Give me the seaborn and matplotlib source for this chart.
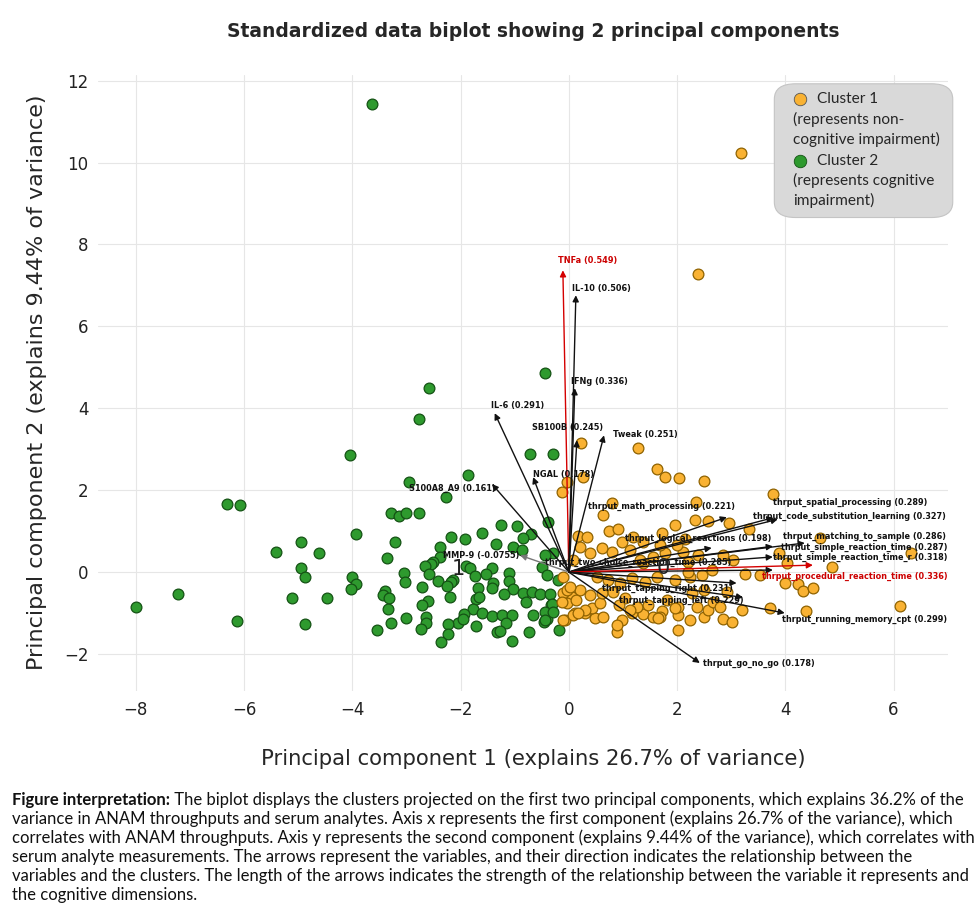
import matplotlib
matplotlib.use("Agg")
import matplotlib.pyplot as plt
import seaborn as sns
import pandas as pd
from matplotlib.patches import FancyBboxPatch

# ---------------- data ----------------
green_x = [-4.05, -6.32, -6.08, -3.94, -4.94, -5.42, -4.62, -4.95, -4.88, -4.01, -3.94, -4.03, -5.12, -4.47,
           -7.23, -7.99, -6.14, -4.88, -3.64,
           -0.44, -2.59, -2.77, -0.72, -0.30, -1.87, -2.96, -2.27,
           -3.29, -3.14, -3.01, -2.77, -0.39, -1.26, -0.96, -1.61, -0.70, -0.85, -2.18, -1.92, -3.22, -1.35,
           -1.04, -2.38, -0.87, -3.36, -2.38, -0.30, -2.51, -2.55, -2.66, -0.50, -1.90, -1.83, -1.42, -3.05,
           -2.59, -1.53, -1.11, -0.41, -1.74, -1.11, -2.14, -2.42, -2.18, -3.03, -1.40, -0.20, -2.72, -2.26,
           -1.68, -1.42, -1.04, -3.40, -0.85, -0.68, -1.20, -0.54, -0.35, -2.20, -3.44, -3.33, -1.72, -1.66,
           -0.79, -0.33, -2.61, -2.72, -1.77, -3.35, -1.61, -1.94, -1.42, -1.24, -1.05, -0.67, -3.00, -2.64,
           -2.05, -1.96, -2.64, -2.24, -0.46, -0.41, -1.16, -3.29, -3.55, -2.74, -1.72, -1.33, -1.28, -0.74,
           -0.18, -2.24, -1.05, -2.37, -0.44, -0.31, -0.44, -0.30, -0.44]
green_y = [2.85, 1.66, 1.63, 0.93, 0.73, 0.49, 0.46, 0.10, -0.12, -0.12, -0.29, -0.41, -0.63, -0.63,
           -0.54, -0.85, -1.20, -1.27, 11.44,
           4.85, 4.49, 3.73, 2.88, 2.88, 2.37, 2.20, 1.83,
           1.44, 1.37, 1.44, 1.44, 1.22, 1.15, 1.12, 0.95, 0.93, 0.83, 0.85, 0.80, 0.73, 0.68,
           0.61, 0.61, 0.54, 0.34, 0.37, 0.46, 0.24, 0.20, 0.15, 0.12, 0.15, 0.10, 0.10, -0.02,
           -0.05, -0.05, -0.02, -0.07, -0.10, -0.22, -0.20, -0.22, -0.24, -0.24, -0.27, -0.20, -0.37, -0.34,
           -0.39, -0.39, -0.41, -0.46, -0.51, -0.49, -0.54, -0.54, -0.54, -0.61, -0.56, -0.63, -0.66, -0.61,
           -0.73, -0.80, -0.71, -0.80, -0.90, -0.90, -1.00, -1.02, -1.07, -1.05, -1.05, -1.05, -1.12, -1.10,
           -1.24, -1.15, -1.24, -1.27, -1.22, -1.15, -1.24, -1.24, -1.41, -1.39, -1.32, -1.46, -1.44, -1.46,
           -1.41, -1.51, -1.68, -1.71, 0.41, -0.78, -0.98, -0.98, -1.17]

orange_x = [3.18, 2.38, 0.22, 1.28, 1.63, 1.77, 2.03, 2.50, 0.26, -0.04, -0.13, 3.77, 0.79, 2.35, 0.63,
            1.96, 2.33, 2.57, 2.96, 3.33, 0.74, 0.91, 0.17, 0.33, 4.64, 6.32, 4.86, 3.88, 4.03, 3.25,
            3.53, 3.99, 4.23, 4.33, 4.51, 3.72, 4.38, 6.12, 3.20, 2.85, 3.01, 2.01, 2.50, 2.24, 0.89,
            0.98, 0.48, 0.63, -0.07, 0.11, 0.30, 1.16, 1.37, 1.55, 1.72, 2.01, 2.01, 1.81, 2.27, 2.57,
            2.66, 2.50, 0.06, 0.20, 0.43, -0.04, 0.13, 0.57, 0.39, 0.61, 0.81, 1.04, 1.26, 1.46, -0.11,
            -0.04, 0.92, 1.13, 1.68, 1.96, 2.37, 2.79, 2.92, 2.24, 2.46, 2.11, 2.20, 2.38, 2.64, 3.03,
            2.85, 1.77, 1.55, 1.37, 1.13, 0.98, 0.79, 0.61, 0.39, 0.20, 0.07, 0.52, 0.72, 0.94, 1.16,
            1.40, 1.63, 1.96, 2.20, 1.31, 1.68, 2.00, 2.14, 1.37, 1.18, 1.72, -0.13, -0.11, 0.02, 1.65,
            0.89, 0.07, -0.11, 0.30, 0.17]
orange_y = [10.24, 7.27, 3.15, 3.02, 2.51, 2.32, 2.29, 2.22, 2.32, 2.20, 1.95, 1.90, 1.68, 1.71, 1.39,
            1.15, 1.27, 1.24, 1.20, 1.05, 1.00, 1.05, 0.88, 0.85, 0.83, 0.46, 0.12, 0.46, 0.22, -0.05,
            -0.07, -0.27, -0.29, -0.46, -0.39, -0.88, -0.95, -0.83, -0.93, -1.15, -1.22, -1.41, -1.10, -1.17, -1.46,
            -1.17, -1.12, -1.10, -1.17, -1.00, -1.00, -1.00, -1.02, -1.10, -0.95, -1.05, -0.85, -0.68, -0.51, -0.93,
            -0.73, -0.44, -0.61, -0.44, -0.88, -0.76, -0.68, -0.76, -0.56, -0.51, -0.49, -0.63, -0.85, -0.80, -0.51,
            -0.44, -0.80, -0.93, -1.10, -0.88, -0.85, -0.85, -0.49, -0.12, -0.07, 0.49, 0.24, 0.41, 0.05, 0.29,
            0.41, 0.46, 0.37, 0.22, 0.54, 0.73, 0.49, 0.59, 0.46, 0.61, 0.29, -0.12, -0.20, -0.27, -0.15,
            -0.24, -0.12, -0.20, 0.00, 0.29, 0.66, 0.66, 0.80, 0.73, 0.85, 0.95, -0.73, -0.12, -0.37, -1.12,
            -1.29, -1.05, -1.17, -0.93, -1.00]

# loading arrows: names, tips, label anchors, colors
var_names = ["TNFa (0.549)", "IL-10 (0.506)", "IFNg (0.336)", "IL-6 (0.291)", "SB100B (0.245)",
             "Tweak (0.251)", "NGAL (0.178)", "S100A8_A9 (0.161)", "MMP-9 (-0.0755)",
             "thrput_two-choice_reaction_time (0.285)", "thrput_math_processing (0.221)",
             "thrput_spatial_processing (0.289)", "thrput_code_substitution_learning (0.327)",
             "thrput_logical_reactions (0.198)", "thrput_matching_to_sample (0.286)",
             "thrput_simple_reaction_time (0.287)", "thrput_simple_reaction_time_r (0.318)",
             "thrput_procedural_reaction_time (0.336)", "thrput_tapping_right (0.231)",
             "thrput_tapping_left (0.229)", "thrput_running_memory_cpt (0.299)", "thrput_go_no_go (0.178)"]
tip_x = [-0.11, 0.13, 0.11, -1.37, 0.15, 0.65, -0.66, -1.42, -0.90, 3.77, 2.92, 3.78, 3.86, 2.64,
         4.36, 3.77, 3.77, 4.51, 3.10, 3.22, 3.99, 2.42]
tip_y = [7.37, 6.76, 4.49, 3.88, 3.22, 3.34, 2.32, 2.15, 0.41, 0.05, 1.34, 1.33, 1.29, 0.59,
         0.71, 0.63, 0.37, 0.17, -0.27, -0.62, -1.00, -2.22]
lab_x = [-0.20, 0.06, 0.04, -1.44, -0.68, 0.81, -0.67, -2.96, -2.33, -0.44, 0.35, 3.77, 3.40, 1.04,
         3.96, 3.92, 3.77, 3.57, 0.61, 0.92, 3.94, 2.48]
lab_y = [7.61, 6.93, 4.66, 4.07, 3.54, 3.37, 2.39, 2.05, 0.41, 0.24, 1.61, 1.71, 1.37, 0.83,
         0.88, 0.59, 0.35, -0.10, -0.41, -0.68, -1.15, -2.22]
var_color = ["red", "black", "black", "black", "black", "black", "black", "black", "gray",
             "black", "black", "black", "black", "black", "black", "black", "black", "red",
             "black", "black", "black", "black"]

centroid_labels = ["0", "1"]
centroid_x = [1.74, -2.05]
centroid_y = [0.10, 0.08]

legend_lines = [("Cluster 1", "orange"), ("(represents non-", None), ("cognitive impairment)", None),
                ("Cluster 2", "green"), ("(represents cognitive", None), ("impairment)", None)]

title = "Standardized data biplot showing 2 principal components"
xlabel = "Principal component 1 (explains 26.7% of variance)"
ylabel = "Principal component 2 (explains 9.44% of variance)"
caption_bold = "Figure interpretation:"
caption_lines = [
    " The biplot displays the clusters projected on the first two principal components, which explains 36.2% of the",
    "variance in ANAM throughputs and serum analytes. Axis x represents the first component (explains 26.7% of the variance), which",
    "correlates with ANAM throughputs. Axis y represents the second component (explains 9.44% of the variance), which correlates with",
    "serum analyte measurements. The arrows represent the variables, and their direction indicates the relationship between the",
    "variables and the clusters. The length of the arrows indicates the strength of the relationship between the variable it represents and",
    "the cognitive dimensions.",
]

# ---------------- plot ----------------
sns.set_style("whitegrid", {"grid.color": "#e6e6e6"})
plt.rcParams['font.family'] = ['DejaVu Sans']

ORANGE = "#f9b233"
GREEN = "#2e9a2e"
colors = {"orange": ORANGE, "green": GREEN}

fig = plt.figure(figsize=(9.8, 9.09), dpi=100)
ax = fig.add_axes([0.100, 0.240, 0.867, 0.678])

df = pd.DataFrame({
    "pc1": green_x + orange_x,
    "pc2": green_y + orange_y,
    "cluster": ["Cluster 2"] * len(green_x) + ["Cluster 1"] * len(orange_x),
})
sns.scatterplot(data=df[df.cluster == "Cluster 2"], x="pc1", y="pc2", color=GREEN,
                edgecolor="#145214", linewidth=0.9, s=60, ax=ax, zorder=2, legend=False)
sns.scatterplot(data=df[df.cluster == "Cluster 1"], x="pc1", y="pc2", color=ORANGE,
                edgecolor="#8f6200", linewidth=0.9, s=60, ax=ax, zorder=2, legend=False)

for name, tx, ty, lx, ly, c in zip(var_names, tip_x, tip_y, lab_x, lab_y, var_color):
    col = {"red": "#d40000", "black": "#111111", "gray": "#777777"}[c]
    ax.annotate("", xy=(tx, ty), xytext=(0, 0),
                arrowprops=dict(arrowstyle="-|>", color=col, lw=1.0, mutation_scale=9,
                                shrinkA=0, shrinkB=0), zorder=3)
    ax.text(lx, ly, name, fontsize=5.9, fontweight="bold",
            color="#cc0000" if c == "red" else "#111111",
            ha="left", va="center", zorder=4)

for lab, cx, cy in zip(centroid_labels, centroid_x, centroid_y):
    ax.text(cx, cy, lab, fontsize=15, color="#222222", ha="center", va="center", zorder=4)

ax.set_xlim(-8.7, 7.0)
ax.set_ylim(-2.9, 12.15)
ax.set_xticks([-8, -6, -4, -2, 0, 2, 4, 6])
ax.set_yticks([-2, 0, 2, 4, 6, 8, 10, 12])
ax.tick_params(labelsize=12, colors="#222222")
ax.set_xlabel(xlabel, fontsize=15.2)
ax.xaxis.set_label_coords(0.512, -0.095)
ax.set_ylabel(ylabel, fontsize=16, labelpad=12)
sns.despine(ax=ax, left=True, bottom=True, right=True, top=True)
fig.text(0.544, 0.965, title, fontsize=13.5, fontweight="bold", ha="center", va="center")

# legend box (custom)
box = FancyBboxPatch((0.796, 0.768), 0.21, 0.217, boxstyle="round,pad=0,rounding_size=0.025",
                     transform=ax.transAxes, facecolor="#d9d9d9", edgecolor="#c4c4c4",
                     lw=0.8, zorder=5, clip_on=False)
ax.add_patch(box)
ys = [0.961, 0.927, 0.894, 0.860, 0.828, 0.795]
for (txt, mk), yy in zip(legend_lines, ys):
    if mk:
        ax.plot([0.826], [yy], marker="o", markersize=9, color=colors[mk],
                markeredgecolor="#555555" if mk == "orange" else "#145214", markeredgewidth=0.6,
                transform=ax.transAxes, zorder=6, clip_on=False, linestyle="none")
        ax.text(0.846, yy, txt, transform=ax.transAxes, fontsize=11.1, family=["Lato", "DejaVu Sans"],
                va="center", ha="left", zorder=6)
    else:
        ax.text(0.818, yy, txt, transform=ax.transAxes, fontsize=11.1, family=["Lato", "DejaVu Sans"],
                va="center", ha="left", zorder=6)

# caption
cap_kw = dict(fontsize=12.0, family=["Lato", "DejaVu Sans"], va="center", ha="left", color="#111111")
y0 = 1 - 800 / 909
dy = 19.0 / 909
x0 = 12 / 980
tb = fig.text(x0, y0, caption_bold, fontweight="bold", **cap_kw)
fig.canvas.draw()
bb = tb.get_window_extent(renderer=fig.canvas.get_renderer())
fig.text(bb.x1 / fig.bbox.width, y0, caption_lines[0], **cap_kw)
for i, line in enumerate(caption_lines[1:], start=1):
    fig.text(x0, y0 - i * dy, line, **cap_kw)

fig.savefig("out.png", dpi=100)
